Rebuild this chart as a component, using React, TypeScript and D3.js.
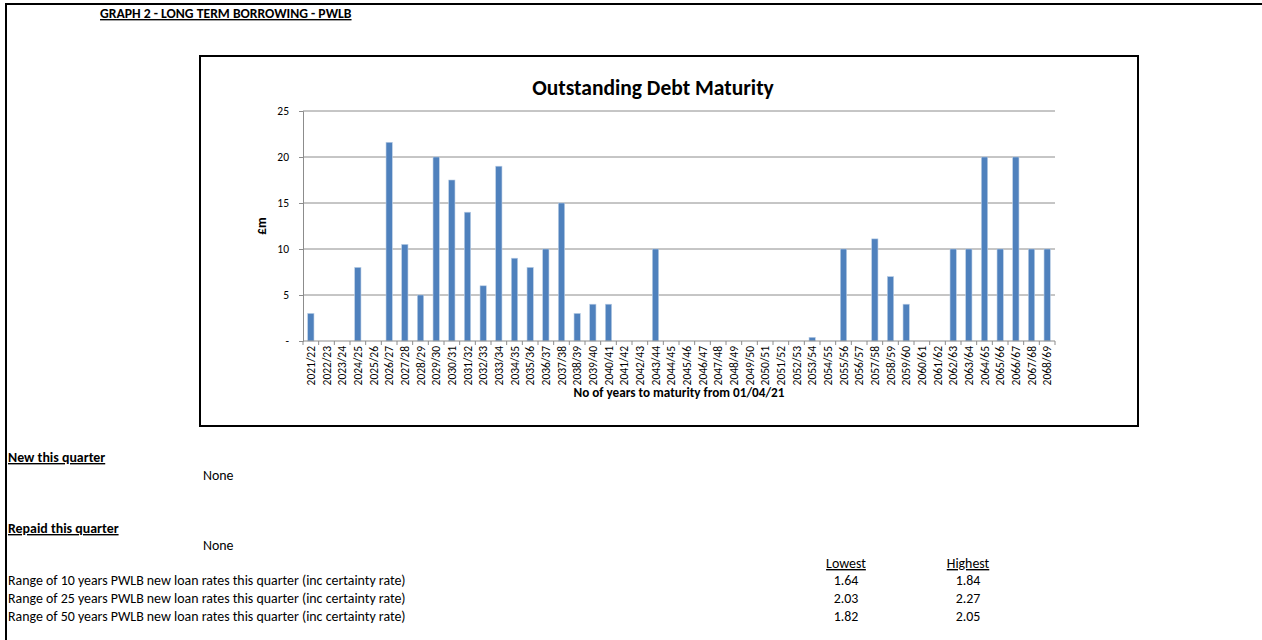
import React, { useRef, useEffect, useCallback } from 'react';
import * as d3 from 'd3';

const categories = [
  '2021/22', '2022/23', '2023/24', '2024/25', '2025/26', '2026/27', '2027/28', '2028/29',
  '2029/30', '2030/31', '2031/32', '2032/33', '2033/34', '2034/35', '2035/36', '2036/37',
  '2037/38', '2038/39', '2039/40', '2040/41', '2041/42', '2042/43', '2043/44', '2044/45',
  '2045/46', '2046/47', '2047/48', '2048/49', '2049/50', '2050/51', '2051/52', '2052/53',
  '2053/54', '2054/55', '2055/56', '2056/57', '2057/58', '2058/59', '2059/60', '2060/61',
  '2061/62', '2062/63', '2063/64', '2064/65', '2065/66', '2066/67', '2067/68', '2068/69',
];

const debt = [
  3, 0, 0, 8, 0, 21.6, 10.5, 5,
  20, 17.5, 14, 6, 19, 9, 8, 10,
  15, 3, 4, 4, 0, 0, 10, 0,
  0, 0, 0, 0, 0, 0, 0, 0,
  0.4, 0, 10, 0, 11.1, 7, 4, 0,
  0, 10, 10, 20, 10, 20, 10, 10,
];

const yTicks = [0, 5, 10, 15, 20, 25];

const rateLabels = [
  'Range of 10 years PWLB new loan rates this quarter (inc certainty rate)',
  'Range of 25 years PWLB new loan rates this quarter (inc certainty rate)',
  'Range of 50 years PWLB new loan rates this quarter (inc certainty rate)',
];
const lowest = ['1.64', '2.03', '1.82'];
const highest = ['1.84', '2.27', '2.05'];

const width = 1262;
const height = 640;
const plot = { left: 303, right: 1055, top: 111, bottom: 341 };
const font = 'Carlito, Calibri, Lato, "Liberation Sans", sans-serif';

const App: React.FC = () => {
  const chartRef = useRef<SVGSVGElement>(null);

  const draw = useCallback(() => {
    const svg = d3.select(chartRef.current);
    svg.selectAll('*').remove();
    svg.attr('font-family', font);

    // page frame
    svg.append('line').attr('x1', 5).attr('x2', width).attr('y1', 4).attr('y2', 4)
      .attr('stroke', '#000').attr('stroke-width', 2);
    svg.append('line').attr('x1', 6).attr('x2', 6).attr('y1', 3).attr('y2', height)
      .attr('stroke', '#000').attr('stroke-width', 2);

    svg.append('text').attr('x', 100).attr('y', 18)
      .attr('font-size', 13.7).attr('font-weight', 'bold')
      .attr('text-decoration', 'underline')
      .text('GRAPH 2 - LONG TERM BORROWING - PWLB');

    // chart box
    svg.append('rect').attr('x', 200).attr('y', 56).attr('width', 938).attr('height', 370)
      .attr('fill', '#fff').attr('stroke', '#000').attr('stroke-width', 2);

    svg.append('text').attr('x', 653).attr('y', 95)
      .attr('text-anchor', 'middle').attr('font-size', 21.5).attr('font-weight', 'bold')
      .text('Outstanding Debt Maturity');

    const x = d3.scaleBand()
      .domain(categories)
      .range([plot.left, plot.right])
      .paddingInner(0.6)
      .paddingOuter(0.3);

    const y = d3.scaleLinear().domain([0, 25]).range([plot.bottom, plot.top]);

    // gridlines
    svg.append('g')
      .selectAll('line')
      .data(yTicks.filter((t) => t > 0))
      .join('line')
      .attr('x1', plot.left).attr('x2', plot.right)
      .attr('y1', (d) => y(d)).attr('y2', (d) => y(d))
      .attr('stroke', '#8c8c8c').attr('stroke-width', 1);

    // y axis
    const yAxis = svg.append('g')
      .attr('transform', `translate(${plot.left},0)`)
      .call(d3.axisLeft(y).tickValues(yTicks).tickSize(4)
        .tickFormat((d) => (d === 0 ? '-' : String(d))));
    yAxis.select('.domain').attr('stroke', '#8c8c8c');
    yAxis.selectAll('.tick line').attr('stroke', '#8c8c8c');
    yAxis.selectAll('.tick text').attr('font-size', 11.5).attr('font-family', font)
      .attr('fill', '#000').attr('x', -14);

    // bars
    svg.append('g')
      .selectAll('rect')
      .data(debt)
      .join('rect')
      .attr('x', (d, i) => x(categories[i]) ?? 0)
      .attr('y', (d) => y(d))
      .attr('width', x.bandwidth())
      .attr('height', (d) => y(0) - y(d))
      .attr('fill', '#4f81bd')
      .attr('stroke', '#b9cde5')
      .attr('stroke-width', d => (d > 0 ? 0.6 : 0));

    // x axis
    const step = x.step();
    const xAxis = svg.append('g').attr('transform', `translate(0,${plot.bottom})`);
    xAxis.append('line').attr('x1', plot.left).attr('x2', plot.right)
      .attr('stroke', '#8c8c8c');
    xAxis.selectAll('line.tk')
      .data(d3.range(categories.length + 1))
      .join('line')
      .attr('class', 'tk')
      .attr('x1', (i) => plot.left + i * step).attr('x2', (i) => plot.left + i * step)
      .attr('y1', 0).attr('y2', 4)
      .attr('stroke', '#8c8c8c');
    xAxis.selectAll('text')
      .data(categories)
      .join('text')
      .attr('transform', (d) => `translate(${(x(d) ?? 0) + x.bandwidth() / 2 + 4},5) rotate(-90)`)
      .attr('text-anchor', 'end')
      .attr('font-size', 11.5)
      .text((d) => d);

    svg.append('text').attr('x', 679).attr('y', 397)
      .attr('text-anchor', 'middle').attr('font-size', 13.2).attr('font-weight', 'bold')
      .text('No of years to maturity from 01/04/21');

    svg.append('text')
      .attr('transform', `translate(266,226) rotate(-90)`)
      .attr('text-anchor', 'middle').attr('font-size', 13.2).attr('font-weight', 'bold')
      .text('£m');

    // notes below the chart
    const note = (tx: number, ty: number, s: string, bold = false, ul = false, anchor = 'start') =>
      svg.append('text').attr('x', tx).attr('y', ty).attr('font-size', 13.9)
        .attr('font-weight', bold ? 'bold' : 'normal')
        .attr('text-decoration', ul ? 'underline' : 'none')
        .attr('text-anchor', anchor)
        .text(s);

    note(8, 462, 'New this quarter', true, true);
    note(203, 480, 'None');
    note(8, 533, 'Repaid this quarter', true, true);
    note(203, 550, 'None');
    note(846, 568, 'Lowest', false, true, 'middle');
    note(968, 568, 'Highest', false, true, 'middle');
    rateLabels.forEach((s, i) => {
      note(8, 585 + i * 18, s);
      note(846, 585 + i * 18, lowest[i], false, false, 'middle');
      note(968, 585 + i * 18, highest[i], false, false, 'middle');
    });
  }, []);

  useEffect(() => {
    draw();
  }, [draw]);

  return (
    <svg
      ref={chartRef}
      width={width}
      height={height}
      style={{ position: 'absolute', left: 0, top: 0, background: '#fff' }}
    />
  );
};

export default App;
